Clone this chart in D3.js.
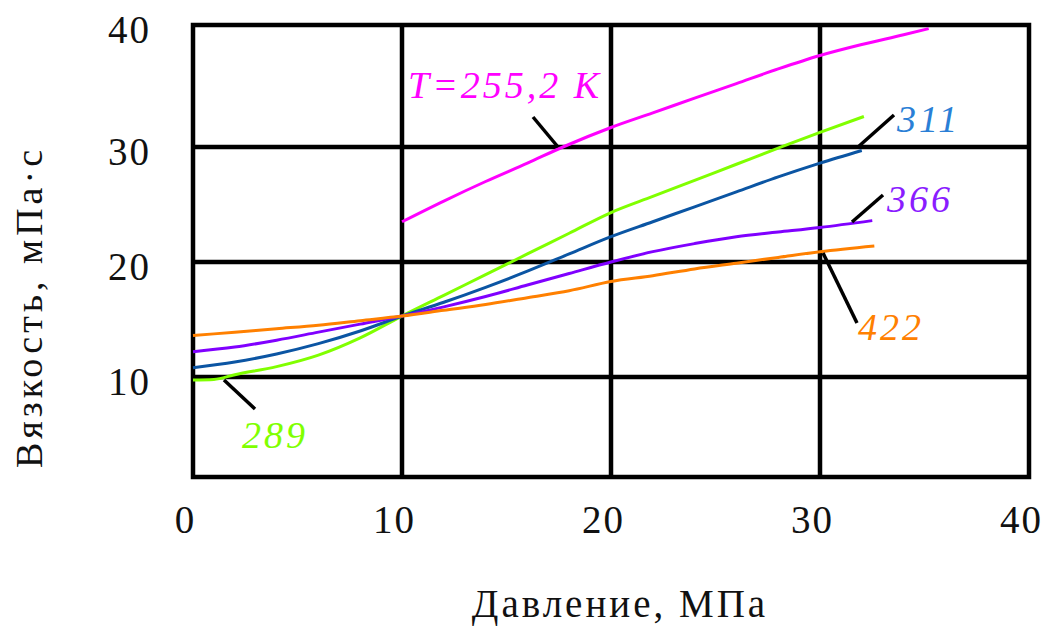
<!DOCTYPE html>
<html>
<head>
<meta charset="utf-8">
<script src="https://cdn.jsdelivr.net/npm/d3@7"></script>
<style>
  html, body { margin: 0; padding: 0; background: #fff; }
  svg { display: block; }
  text { font-family: "Liberation Serif", "Times New Roman", serif; }
</style>
</head>
<body>
<svg id="chart" width="1045" height="626"></svg>
<script>
// Pressure (MPa) vs viscosity (mPa·s) at several temperatures
const xTicks = [0, 10, 20, 30, 40];
const yTicks = [10, 20, 30, 40];

const p255 = [10, 12, 14, 16, 17.7, 20, 22, 24, 26, 28, 30, 32, 34, 35.2];
const v255 = [23.5, 25.3, 27.0, 28.6, 30.0, 31.6, 32.8, 34.0, 35.2, 36.4, 37.5, 38.4, 39.2, 39.7];

const p289 = [0, 1, 2, 4, 6, 8, 10, 12, 14, 16, 18, 20, 22, 24, 26, 28, 30, 32.1];
const v289 = [9.7, 9.75, 10.2, 10.9, 11.9, 13.4, 15.3, 17.1, 18.9, 20.7, 22.5, 24.3, 25.7, 27.1, 28.5, 29.9, 31.2, 32.5];

const p311 = [0, 2, 4, 6, 8, 10, 12, 14, 16, 18, 20, 22, 24, 26, 28, 30, 32];
const v311 = [10.8, 11.3, 12.0, 12.9, 14.0, 15.3, 16.5, 17.8, 19.2, 20.7, 22.2, 23.5, 24.8, 26.1, 27.4, 28.6, 29.7];

const p366 = [0, 2, 4, 6, 8, 10, 12, 14, 16, 18, 20, 22, 24, 26, 28, 30, 32.5];
const v366 = [12.2, 12.6, 13.2, 13.9, 14.6, 15.3, 16.1, 17.0, 18.0, 19.0, 20.0, 20.9, 21.6, 22.2, 22.6, 23.0, 23.6];

const p422 = [0, 2, 4, 6, 8, 10, 12, 14, 16, 18, 20, 22, 24, 26, 28, 30, 32.6];
const v422 = [13.6, 13.9, 14.2, 14.5, 14.9, 15.3, 15.8, 16.3, 16.9, 17.5, 18.3, 18.8, 19.4, 19.9, 20.4, 20.9, 21.4];

const seriesNames = ["T=255,2 K", "289", "311", "366", "422"];

const svg = d3.select("#chart");

const x = d3.scaleLinear().domain([0, 40]).range([193, 1029]);
// the value axis has a shorter first step below 10
const y = d3.scaleLinear().domain([0, 10, 20, 30, 40]).range([477, 377, 262, 147, 25]);

// grid and frame
const grid = svg.append("g").attr("stroke", "#000").attr("stroke-width", 4.5);
grid.selectAll("line.v").data(xTicks.slice(1, -1)).join("line")
  .attr("x1", d => x(d)).attr("x2", d => x(d))
  .attr("y1", y(0)).attr("y2", y(40));
grid.selectAll("line.h").data(yTicks.slice(0, -1)).join("line")
  .attr("x1", x(0)).attr("x2", x(40))
  .attr("y1", d => y(d)).attr("y2", d => y(d));
grid.append("rect")
  .attr("x", x(0)).attr("y", y(40))
  .attr("width", x(40) - x(0)).attr("height", y(0) - y(40))
  .attr("fill", "none");

// axes (labels only)
const xAxis = d3.axisBottom(x).tickValues(xTicks).tickSize(0).tickPadding(28);
const gx = svg.append("g").attr("transform", `translate(-8,${y(0)})`).call(xAxis);
gx.select(".domain").remove();
gx.selectAll("text").attr("font-size", 39).attr("fill", "#111")
  .style("letter-spacing", "2px");

const yAxis = d3.axisLeft(y).tickValues(yTicks).tickSize(0).tickPadding(42);
const gy = svg.append("g").attr("transform", `translate(${x(0)},5)`).call(yAxis);
gy.select(".domain").remove();
gy.selectAll("text").attr("font-size", 39).attr("fill", "#111")
  .style("letter-spacing", "2px");

// axis titles
svg.append("text")
  .attr("x", 620).attr("y", 617)
  .attr("text-anchor", "middle").attr("font-size", 39).attr("fill", "#111")
  .style("letter-spacing", "3px")
  .text("Давление, МПа");

svg.append("text")
  .attr("transform", "translate(42,307) rotate(-90)")
  .attr("text-anchor", "middle").attr("font-size", 38).attr("fill", "#111")
  .style("letter-spacing", "4px")
  .text("Вязкость, мПа·с");

// curves
const lineGen = d3.line().x(d => x(d[0])).y(d => y(d[1])).curve(d3.curveMonotoneX);
const curves = [
  { p: p255, v: v255, color: "#ff00ff" },
  { p: p289, v: v289, color: "#80ff00" },
  { p: p311, v: v311, color: "#0b55a3" },
  { p: p366, v: v366, color: "#8000ff" },
  { p: p422, v: v422, color: "#ff8000" }
];
svg.append("g").selectAll("path").data(curves).join("path")
  .attr("d", c => lineGen(d3.zip(c.p, c.v)))
  .attr("fill", "none")
  .attr("stroke", c => c.color)
  .attr("stroke-width", 3);

// leader lines from labels to curves
const leaders = [
  [533, 117, 558, 147],
  [224, 380, 255, 409],
  [858, 147, 894, 115],
  [852, 222, 883, 195],
  [823, 253, 857, 323]
];
svg.append("g").selectAll("line").data(leaders).join("line")
  .attr("x1", d => d[0]).attr("y1", d => d[1])
  .attr("x2", d => d[2]).attr("y2", d => d[3])
  .attr("stroke", "#000").attr("stroke-width", 3.5);

// curve labels
const labels = [
  { t: seriesNames[0], x: 408, y: 98, color: "#ff00ff" },
  { t: seriesNames[1], x: 242, y: 448, color: "#80ff00" },
  { t: seriesNames[2], x: 897, y: 132, color: "#2a7fd6" },
  { t: seriesNames[3], x: 887, y: 212, color: "#8a1cff" },
  { t: seriesNames[4], x: 858, y: 340, color: "#ff8000" }
];
svg.append("g").selectAll("text").data(labels).join("text")
  .attr("x", d => d.x).attr("y", d => d.y)
  .attr("fill", d => d.color)
  .attr("font-size", 38).attr("font-style", "italic")
  .style("letter-spacing", "3px")
  .text(d => d.t);
</script>
</body>
</html>
